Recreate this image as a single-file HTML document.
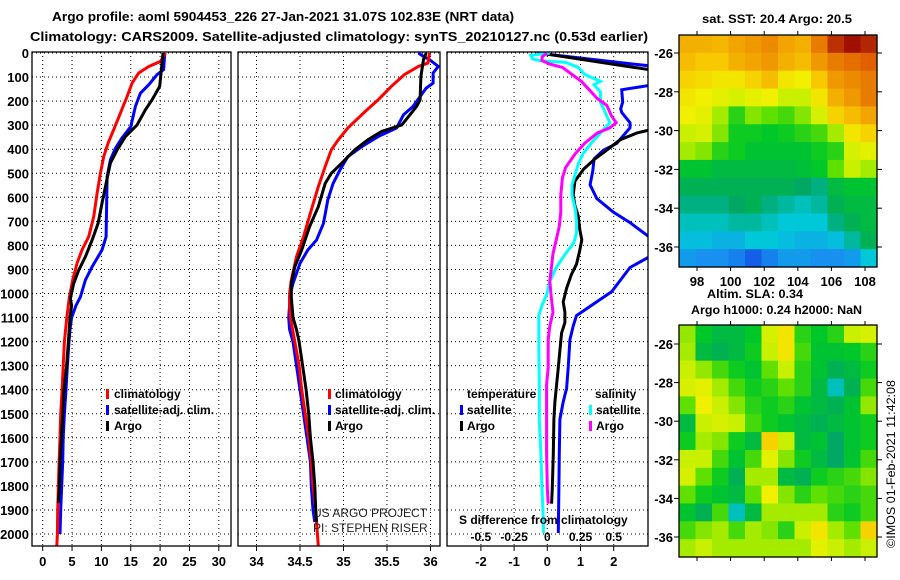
<!DOCTYPE html>
<html><head><meta charset="utf-8"><style>
html,body{margin:0;padding:0;background:#fff;}
svg{display:block;font-family:"Liberation Sans",sans-serif;}
.t{font-weight:bold;font-size:13px;fill:#000;}
.l{font-weight:bold;font-size:12px;fill:#000;}
</style></head><body>
<svg id="chart" width="900" height="580" viewBox="0 0 900 580" xmlns="http://www.w3.org/2000/svg">
<defs>
<clipPath id="c1"><rect x="32" y="52" width="199" height="494"/></clipPath>
<clipPath id="c2"><rect x="238" y="52" width="202" height="494"/></clipPath>
<clipPath id="c3"><rect x="447" y="52" width="201" height="494"/></clipPath>
</defs>
<text x="52" y="21" class="t" font-size="14" textLength="462" lengthAdjust="spacingAndGlyphs">Argo profile: aoml 5904453_226 27-Jan-2021 31.07S 102.83E (NRT data)</text>
<text x="30" y="41" class="t" font-size="14" textLength="618" lengthAdjust="spacingAndGlyphs">Climatology: CARS2009. Satellite-adjusted climatology: synTS_20210127.nc (0.53d earlier)</text>
<g id="grid"></g>
<g id="lines"></g>
<g id="frames"></g>
<g id="maps"></g>
<g>
<rect x="106" y="389" width="3" height="10" fill="#f00"/><text x="114" y="398" class="l">climatology</text>
<rect x="106" y="405" width="3" height="10" fill="#00f"/><text x="114" y="414" class="l">satellite-adj. clim.</text>
<rect x="106" y="421" width="3" height="10" fill="#000"/><text x="114" y="430" class="l">Argo</text>
</g>
<g>
<rect x="328" y="389" width="3" height="10" fill="#f00"/><text x="335" y="398" class="l">climatology</text>
<rect x="328" y="405" width="3" height="10" fill="#00f"/><text x="335" y="414" class="l">satellite-adj. clim.</text>
<rect x="328" y="421" width="3" height="10" fill="#000"/><text x="335" y="430" class="l">Argo</text>
</g>
<text x="313" y="517" font-size="12" fill="#222">US ARGO PROJECT</text>
<text x="313" y="532" font-size="12" fill="#222">PI: STEPHEN RISER</text>
<g>
<text x="467" y="398" class="l">temperature</text>
<rect x="460" y="405" width="3" height="10" fill="#00f"/><text x="467" y="414" class="l">satellite</text>
<rect x="460" y="421" width="3" height="10" fill="#000"/><text x="467" y="430" class="l">Argo</text>
<text x="595" y="398" class="l">salinity</text>
<rect x="589" y="405" width="3" height="10" fill="#0ff"/><text x="596" y="414" class="l">satellite</text>
<rect x="589" y="421" width="3" height="10" fill="#f0f"/><text x="596" y="430" class="l">Argo</text>
</g>
<text x="459" y="524" class="l">S difference from climatology</text>
<text x="702" y="23" class="l" textLength="150" lengthAdjust="spacingAndGlyphs">sat. SST: 20.4 Argo: 20.5</text>
<text x="707" y="298" class="l" textLength="96" lengthAdjust="spacingAndGlyphs">Altim. SLA: 0.34</text>
<text x="691" y="314" class="l" textLength="171" lengthAdjust="spacingAndGlyphs">Argo h1000: 0.24 h2000: NaN</text>
<text transform="translate(895,548) rotate(-90)" font-size="12" fill="#000" textLength="168" lengthAdjust="spacingAndGlyphs">©IMOS 01-Feb-2021 11:42:08</text>
</svg>
<script>
// ---------- data ----------
const depthTicks=[0,100,200,300,400,500,600,700,800,900,1000,1100,1200,1300,1400,1500,1600,1700,1800,1900,2000];
const tTicks=[0,5,10,15,20,25,30];
const sTicks=[34,34.5,35,35.5,36];
const sTickLabels=["34","34.5","35","35.5","36"];
const dTicks=[-2,-1,0,1,2];
const sdTicks=[-0.5,-0.25,0,0.25,0.5];
const sdTickLabels=["-0.5","-0.25","0","0.25","0.5"];

const tClimDepth=[0,35,56,83,125,181,250,319,375,431,500,583,681,764,819,875,944,1014,1100,1200,1300,1400,1500,1600,1700,1800,1900,2000,2050];
const tClimVal=[20.9,20.06,18.07,16.36,15.23,14.37,13.24,12.1,11.14,10.4,9.83,9.26,8.69,7.84,6.7,5.85,5.11,4.55,4.1,3.7,3.5,3.3,3.06,2.95,2.8,2.67,2.55,2.5,2.4];
const tSatDepth=[0,69,90,132,167,222,306,354,396,444,514,764,819,889,944,1014,1050,1100,1150,1200,1300,1400,1500,1600,1700,1800,1900,2000];
const tSatVal=[20.8,20.6,19.49,18.07,16.65,15.8,15.0,13.5,12.4,11.53,10.97,10.8,10.1,8.41,7.27,6.42,5.67,4.93,4.65,4.48,4.2,3.97,3.69,3.5,3.4,3.23,3.06,2.95];
const tArgoDepth=[0,139,194,236,299,347,403,458,542,625,708,778,847,903,958,1021,1050,1100,1200,1300,1400,1500,1600,1700,1800,1870];
const tArgoVal=[20.5,19.94,18.64,17.5,16.08,14.1,12.67,11.53,10.8,10.1,9.43,8.41,7.27,6.14,5.28,4.72,4.93,4.65,4.37,4.08,3.63,3.4,3.18,2.95,2.84,2.67];

const sClimDepth=[0,42,56,90,139,194,243,312,361,403,472,556,653,764,847,944,1000,1050,1100,1200,1300,1400,1500,1600,1700,1800,1900,2000,2050];
const sClimVal=[35.99,35.97,35.86,35.70,35.55,35.40,35.25,35.05,34.94,34.86,34.79,34.71,34.63,34.54,34.46,34.40,34.38,34.38,34.39,34.44,34.49,34.52,34.56,34.60,34.63,34.65,34.68,34.70,34.71];
const sArgoDepth=[0,28,97,194,222,299,326,361,403,458,500,542,639,722,819,889,958,1014,1100,1150,1200,1300,1400,1500,1600,1700,1800,1900,1950];
const sArgoVal=[35.95,35.92,35.89,35.88,35.84,35.67,35.44,35.28,35.13,34.98,34.86,34.79,34.71,34.61,34.52,34.44,34.40,34.40,34.42,34.46,34.49,34.53,34.57,34.60,34.62,34.65,34.67,34.68,34.69];
const sSatDepth=[0,14,28,56,83,125,146,181,222,257,312,347,389,431,486,542,611,708,778,819,875,958,1014,1050,1100,1150,1200,1300,1400,1500,1600,1700,1800,1900,1950];
const sSatVal=[35.86,35.92,35.99,36.09,36.03,36.03,35.95,35.88,35.80,35.69,35.61,35.40,35.21,35.05,34.96,34.88,34.82,34.77,34.69,34.59,34.50,34.42,34.38,34.38,34.37,34.38,34.42,34.46,34.5,34.54,34.58,34.62,34.63,34.65,34.67];

const dtSatDepth=[0,65,120,135,153,204,232,247,290,311,376,404,440,490,548,605,662,705,763,800,849,892,992,1092,1135,1193,1308,1394,1451,1523,1666,1809,1996];
const dtSatVal=[-0.32,3.8,3.8,3.05,2.24,2.27,2.21,2.24,2.49,2.49,2.09,1.69,1.41,1.37,1.29,1.49,1.99,2.49,3.05,3.6,3.05,2.49,1.94,0.88,0.78,0.68,0.63,0.58,0.48,0.38,0.36,0.35,0.33];
const dtArgoDepth=[5,85,300,321,333,361,404,440,483,533,591,634,677,734,777,820,878,920,978,1035,1078,1121,1164,1236,1308,1379,1451,1523,1666,1809,1874];
const dtArgoVal=[0.0,3.8,3.8,3.05,2.69,2.19,1.79,1.44,1.09,0.83,0.78,0.83,0.93,0.98,1.04,0.98,0.88,0.73,0.58,0.48,0.53,0.53,0.43,0.38,0.33,0.28,0.23,0.2,0.18,0.15,0.13];
const dsSatDepth=[0,10,24,32,39,60,89,118,132,161,204,232,290,333,376,419,462,505,548,591,648,705,748,791,834,892,949,1006,1049,1092,1164,1236,1379,1523,1666,1809,1953,1996];
const dsSatVal=[0.019,-0.124,-0.112,-0.052,0.138,0.233,0.281,0.4,0.352,0.4,0.4,0.424,0.471,0.4,0.329,0.269,0.233,0.21,0.186,0.186,0.21,0.221,0.221,0.198,0.138,0.067,0.019,-0.005,-0.04,-0.064,-0.064,-0.064,-0.06,-0.06,-0.048,-0.04,-0.029,-0.029];
const dsArgoDepth=[0,17,32,46,60,89,118,161,189,218,261,290,311,333,376,419,476,519,591,662,720,777,834,892,949,1021,1078,1135,1193,1308,1379,1523,1666,1809,1874];
const dsArgoVal=[-0.005,-0.04,-0.04,0.019,0.114,0.186,0.257,0.329,0.376,0.448,0.483,0.519,0.471,0.376,0.281,0.21,0.138,0.114,0.102,0.102,0.09,0.067,0.043,0.031,0.019,0.031,0.043,0.019,0.007,0.007,-0.005,-0.005,-0.005,0,0.007];

const lonTicks=[98,100,102,104,106,108];
const latTicks=[-26,-28,-30,-32,-34,-36];
const sstGrid=[
[.76,.76,.75,.78,.80,.82,.78,.76,.84,.92,.95,.93],
[.74,.72,.72,.76,.78,.80,.76,.74,.80,.84,.86,.88],
[.70,.68,.66,.66,.70,.74,.66,.64,.72,.80,.82,.84],
[.66,.64,.62,.60,.62,.64,.58,.58,.66,.76,.80,.84],
[.64,.62,.56,.48,.54,.52,.50,.54,.60,.70,.74,.78],
[.58,.60,.54,.46,.46,.45,.46,.48,.50,.56,.66,.70],
[.56,.54,.48,.46,.44,.44,.44,.44,.46,.48,.60,.62],
[.44,.44,.42,.42,.42,.42,.42,.43,.45,.52,.58,.56],
[.40,.40,.40,.40,.40,.40,.40,.38,.36,.42,.44,.44],
[.36,.36,.36,.38,.40,.36,.34,.32,.34,.40,.42,.42],
[.32,.32,.32,.34,.34,.32,.30,.30,.30,.36,.40,.42],
[.28,.28,.26,.26,.30,.30,.28,.26,.26,.28,.34,.40],
[.22,.20,.20,.18,.14,.18,.22,.22,.20,.20,.22,.30]];
const slaGrid=[
[.55,.45,.42,.42,.45,.60,.66,.48,.45,.48,.58,.60],
[.56,.42,.40,.42,.46,.58,.66,.50,.44,.44,.45,.48],
[.58,.55,.50,.46,.44,.52,.58,.48,.44,.40,.42,.46],
[.60,.62,.56,.50,.46,.48,.52,.48,.42,.32,.40,.50],
[.52,.64,.58,.54,.48,.46,.48,.44,.42,.40,.44,.55],
[.42,.58,.60,.58,.50,.46,.44,.42,.40,.42,.44,.46],
[.46,.56,.54,.46,.42,.70,.58,.42,.44,.38,.44,.46],
[.58,.58,.50,.44,.50,.62,.54,.46,.42,.38,.44,.50],
[.60,.52,.46,.40,.56,.56,.42,.40,.46,.48,.50,.54],
[.52,.46,.44,.42,.52,.64,.54,.48,.52,.50,.48,.50],
[.44,.40,.50,.32,.42,.56,.56,.56,.56,.48,.46,.50],
[.50,.54,.56,.50,.56,.54,.48,.58,.66,.56,.52,.70],
[.56,.58,.56,.56,.56,.56,.56,.56,.62,.58,.56,.58]];

// ---------- axes ----------
const NS="http://www.w3.org/2000/svg";
const TOP=52,BOT=546;
const yD=d=>53+d*0.2405;
const x1=t=>42.7+t*5.87;
const x2=s=>256.5+(s-34)*87;
const x3=t=>547.3+t*33.2;
const x3s=s=>547.3+s*132.8;
const panels=[[32,231],[238,440],[447,648]];
function el(tag,attrs,parent){const e=document.createElementNS(NS,tag);for(const k in attrs)e.setAttribute(k,attrs[k]);parent.appendChild(e);return e;}
const grid=document.getElementById('grid'),lines=document.getElementById('lines'),frames=document.getElementById('frames'),maps=document.getElementById('maps');

panels.forEach((p,i)=>{
  depthTicks.forEach(d=>{
    const g=el('line',{x1:p[0],x2:p[1],y1:yD(d),y2:yD(d),stroke:'#000','stroke-width':1,'stroke-dasharray':'1,3'},grid);
    
    
  });
  const f=el('rect',{x:p[0],y:TOP,width:p[1]-p[0],height:BOT-TOP,fill:'none',stroke:'#000','stroke-width':1.3},frames);
  
  
});
depthTicks.forEach(d=>{
  const t=el('text',{x:29,y:yD(d)+5,'text-anchor':'end',class:'t'},frames);
  t.textContent=d;
  
  
});
function vgrid(ticks,fx,p,labels,nm,ly){
  ticks.forEach((v,i)=>{
    const g=el('line',{x1:fx(v),x2:fx(v),y1:TOP,y2:BOT,stroke:'#000','stroke-width':1,'stroke-dasharray':'1,3'},grid);
    
    
    el('line',{x1:fx(v),x2:fx(v),y1:BOT,y2:BOT+5,stroke:'#000'},frames);
    const t=el('text',{x:fx(v),y:ly,'text-anchor':'middle',class:'t'},frames);
    t.textContent=labels?labels[i]:v;
    
    
  });
}
vgrid(tTicks,x1,panels[0],null,'temperature',566);
vgrid(sTicks,x2,panels[1],sTickLabels,'salinity',566);
vgrid(dTicks,x3,panels[2],null,'t-diff',566);
sdTicks.forEach((v,i)=>{
  const t=el('text',{x:x3s(v),y:541,'text-anchor':'middle',class:'l'},frames);
  t.textContent=sdTickLabels[i];
  
  
});

function series(depth,val,fx,color,clip,name){
  const pts=depth.map((d,i)=>fx(val[i]).toFixed(1)+','+yD(d).toFixed(1)).join(' ');
  const pl=el('polyline',{points:pts,fill:'none',stroke:color,'stroke-width':3,'stroke-linejoin':'miter','clip-path':'url(#'+clip+')'},lines);
  
  
}
series(tSatDepth,tSatVal,x1,'#00f','c1','temp-satellite-line');
series(tClimDepth,tClimVal,x1,'#f00','c1','temp-climatology-line');
series(tArgoDepth,tArgoVal,x1,'#000','c1','temp-argo-line');
series(sSatDepth,sSatVal,x2,'#00f','c2','sal-satellite-line');
series(sClimDepth,sClimVal,x2,'#f00','c2','sal-climatology-line');
series(sArgoDepth,sArgoVal,x2,'#000','c2','sal-argo-line');
series(dtSatDepth,dtSatVal,x3,'#00f','c3','tdiff-satellite-line');
series(dtArgoDepth,dtArgoVal,x3,'#000','c3','tdiff-argo-line');
series(dsSatDepth,dsSatVal,x3s,'#0ff','c3','sdiff-satellite-line');
series(dsArgoDepth,dsArgoVal,x3s,'#f0f','c3','sdiff-argo-line');

// ---------- maps ----------
const stops=[[0.1,[16,64,224]],[0.2,[24,144,240]],[0.3,[0,200,216]],[0.38,[0,168,100]],[0.45,[0,200,40]],[0.52,[96,224,0]],[0.58,[200,240,0]],[0.64,[240,240,0]],[0.72,[248,200,0]],[0.8,[240,152,0]],[0.88,[224,96,0]],[0.95,[160,16,0]]];
function cmap(v){
  if(v<=stops[0][0])return 'rgb('+stops[0][1]+')';
  for(let i=1;i<stops.length;i++){if(v<=stops[i][0]){const a=stops[i-1],b=stops[i],f=(v-a[0])/(b[0]-a[0]);return 'rgb('+a[1].map((c,k)=>Math.round(c+(b[1][k]-c)*f)).join(',')+')';}}
  return 'rgb('+stops[stops.length-1][1]+')';
}
const MX0=679,MX1=877;
const lonX=lon=>697+(lon-98)*16.8;
function drawMap(gridData,y0,y1,latY,name,lonLabels){
  const g=el('g',{},maps);
  
  
  const rows=gridData.length,cols=gridData[0].length,cw=(MX1-MX0)/cols,ch=(y1-y0)/rows;
  gridData.forEach((row,r)=>row.forEach((v,c)=>{
    const cell=el('rect',{x:(MX0+c*cw).toFixed(2),y:(y0+r*ch).toFixed(2),width:(cw+0.6).toFixed(2),height:(ch+0.6).toFixed(2),fill:cmap(v)},g);
    
    
  }));
  el('rect',{x:MX0,y:y0,width:MX1-MX0,height:y1-y0,fill:'none',stroke:'#000','stroke-width':1.3},g);
  latTicks.forEach(lat=>{
    const y=latY(lat);
    el('line',{x1:MX0-5,x2:MX0,y1:y,y2:y,stroke:'#000'},g);
    el('line',{x1:MX1,x2:MX1+5,y1:y,y2:y,stroke:'#000'},g);
    const t=el('text',{x:673,y:y+5,'text-anchor':'end',class:'t'},g);
    t.textContent=lat;
    
    
  });
  lonTicks.forEach(lon=>{
    el('line',{x1:lonX(lon),x2:lonX(lon),y1:y0-4,y2:y0,stroke:'#000'},g);
    el('line',{x1:lonX(lon),x2:lonX(lon),y1:y1,y2:y1+4,stroke:'#000'},g);
    if(lonLabels){
      const t=el('text',{x:lonX(lon),y:y1+19,'text-anchor':'middle',class:'t'},g);
      t.textContent=lon;
      
      
    }
  });
}
drawMap(sstGrid,35,267,lat=>53+(-26-lat)*19.4,'sst-map',true);
drawMap(slaGrid,325,557,lat=>344+(-26-lat)*19.3,'sla-map',false);
</script>
</body></html>
